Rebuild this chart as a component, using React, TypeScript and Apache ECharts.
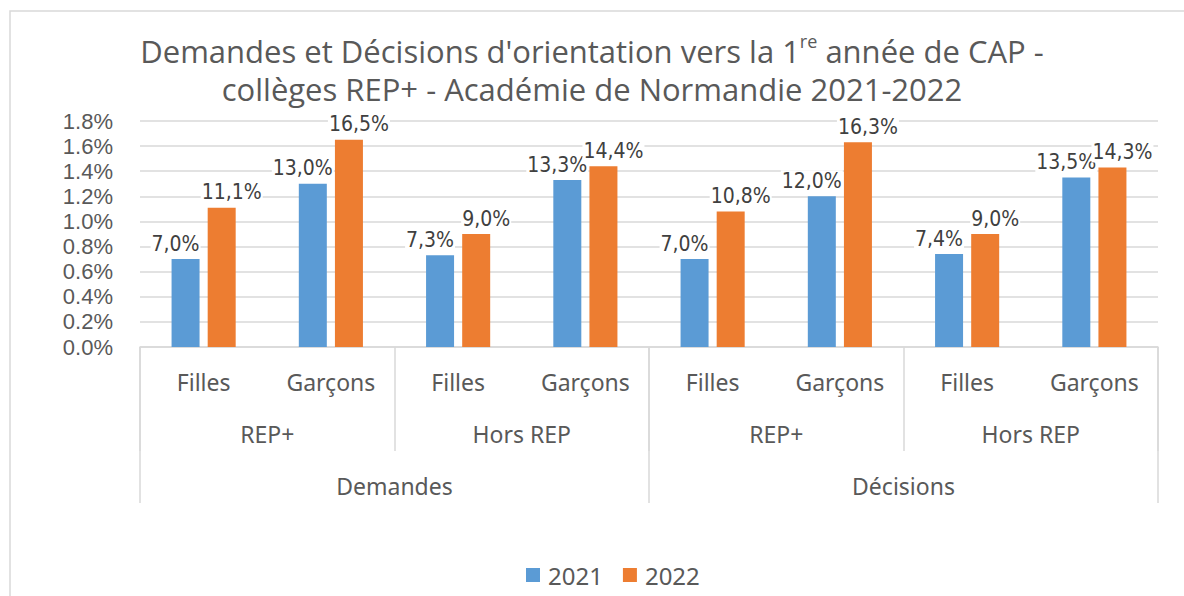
import React, { useEffect, useRef } from "react";
import * as echarts from "echarts";

const subCategories = ["Filles", "Garçons", "Filles", "Garçons", "Filles", "Garçons", "Filles", "Garçons"];
const midCategories = ["REP+", "Hors REP", "REP+", "Hors REP"];
const topCategories = ["Demandes", "Décisions"];
const seriesNames = ["2021", "2022"];
const values2021 = [0.70, 1.30, 0.73, 1.33, 0.70, 1.20, 0.74, 1.35];
const values2022 = [1.11, 1.65, 0.90, 1.44, 1.08, 1.63, 0.90, 1.43];
const labels2021 = ["7,0%", "13,0%", "7,3%", "13,3%", "7,0%", "12,0%", "7,4%", "13,5%"];
const labels2022 = ["11,1%", "16,5%", "9,0%", "14,4%", "10,8%", "16,3%", "9,0%", "14,3%"];
const yTicks = { min: 0, max: 1.8, interval: 0.2 };

const GRAY = "#595959";
const LINE = "#d9d9d9";
const LABEL_FONT = "'DejaVu Sans Condensed', 'Liberation Sans Narrow', 'Liberation Sans', sans-serif";
const CAT_FONT = "'Noto Sans', 'Open Sans', sans-serif";
const TITLE_FONT = "'Open Sans', 'Noto Sans', sans-serif";

export default function App() {
  const ref = useRef<HTMLDivElement>(null);
  useEffect(() => {
    if (!ref.current) return;
    const chart = echarts.init(ref.current, null, { renderer: "svg" });
    const labelStyle = (labels: string[], dx: number) => ({
      show: true,
      position: "top",
      distance: 5,
      offset: [dx, 0],
      fontFamily: LABEL_FONT,
      fontSize: 21,
      color: "#404040",
      backgroundColor: "#ffffff",
      padding: [0, 1],
      formatter: (p: any) => labels[p.dataIndex],
    });
    chart.setOption({
      animation: false,
      backgroundColor: "#ffffff",
      title: {
        text: "Demandes et Décisions d'orientation vers la 1{sup|re} année de CAP -\ncollèges REP+ - Académie de Normandie 2021-2022",
        left: "center",
        top: 27,
        textStyle: {
          fontFamily: TITLE_FONT,
          fontSize: 31,
          fontWeight: "normal",
          color: GRAY,
          lineHeight: 38,
          rich: {
            sup: {
              fontFamily: TITLE_FONT,
              fontSize: 18,
              color: GRAY,
              verticalAlign: "top",
              lineHeight: 38,
              padding: [0, 0, 10, 0],
            },
          },
        },
      },
      graphic: [
        {
          type: "rect",
          shape: { x: 10, y: 11, width: 1200, height: 620 },
          style: { fill: "none", stroke: LINE, lineWidth: 1.5 },
          silent: true,
        },
      ],
      legend: {
        bottom: 4,
        left: 521,
        icon: "rect",
        itemWidth: 14,
        itemHeight: 14,
        itemGap: 20,
        textStyle: { fontFamily: CAT_FONT, fontSize: 24, color: GRAY, padding: [0, 0, 0, 3] },
        data: seriesNames,
      },
      grid: { left: 140, right: 26, top: 121, bottom: 249, containLabel: false },
      xAxis: [
        {
          type: "category",
          data: subCategories,
          position: "bottom",
          axisLine: { show: true, lineStyle: { color: LINE, width: 1.5 } },
          axisTick: { show: false },
          axisLabel: { margin: 23, fontFamily: CAT_FONT, fontSize: 23, color: GRAY },
        },
        {
          type: "category",
          data: midCategories,
          position: "bottom",
          axisLine: { show: false },
          axisTick: { show: true, length: 104, lineStyle: { color: LINE, width: 1.5 } },
          axisLabel: { margin: 75, fontFamily: CAT_FONT, fontSize: 23, color: GRAY },
        },
        {
          type: "category",
          data: topCategories,
          position: "bottom",
          axisLine: { show: false },
          axisTick: { show: true, length: 156, lineStyle: { color: LINE, width: 1.5 } },
          axisLabel: { margin: 127, fontFamily: CAT_FONT, fontSize: 23, color: GRAY },
        },
      ],
      yAxis: {
        type: "value",
        min: yTicks.min,
        max: yTicks.max,
        interval: yTicks.interval,
        axisLine: { show: false },
        axisTick: { show: false },
        splitLine: { lineStyle: { color: LINE, width: 1.5 } },
        axisLabel: {
          margin: 27,
          fontFamily: "'Liberation Sans', Arial, sans-serif",
          fontSize: 22,
          color: GRAY,
          formatter: (v: number) => v.toFixed(1) + "%",
        },
      },
      series: [
        {
          name: seriesNames[0],
          type: "bar",
          xAxisIndex: 0,
          data: values2021,
          barWidth: 28,
          barGap: "29%",
          itemStyle: { color: "#5B9BD5" },
          label: labelStyle(labels2021, -10),
        },
        {
          name: seriesNames[1],
          type: "bar",
          xAxisIndex: 0,
          data: values2022,
          barWidth: 28,
          barGap: "29%",
          itemStyle: { color: "#ED7D31" },
          label: labelStyle(labels2022, 10),
        },
      ],
    });
    return () => chart.dispose();
  }, []);
  return (
    <div
      ref={ref}
      style={{ position: "fixed", left: 0, top: 0, width: 1184, height: 596 }}
    />
  );
}
